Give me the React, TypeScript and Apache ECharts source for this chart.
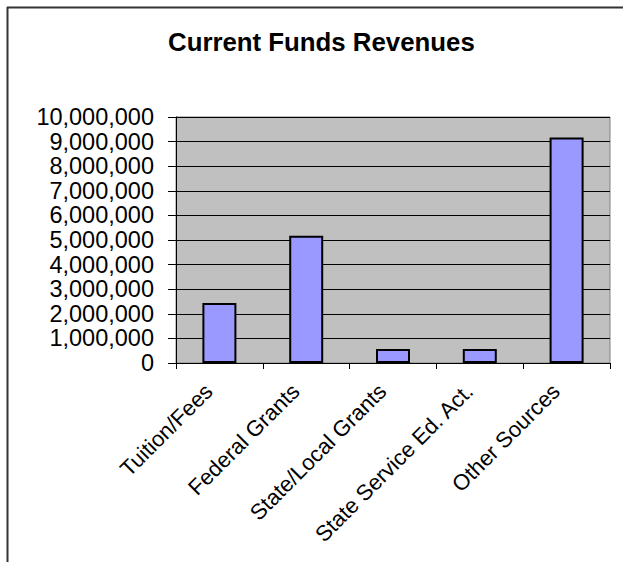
import React, { useEffect, useRef } from "react";
import * as echarts from "echarts";

const categories = [
  "Tuition/Fees",
  "Federal Grants",
  "State/Local Grants",
  "State Service Ed. Act.",
  "Other Sources",
];
const revenues = [2440000, 5170000, 570000, 570000, 9170000];
const titleText = "Current Funds Revenues";

export default function App() {
  const ref = useRef<HTMLDivElement>(null);
  useEffect(() => {
    if (!ref.current) return;
    const chart = echarts.init(ref.current, null, { renderer: "svg" });
    const font = "'Liberation Sans', Arial, sans-serif";
    chart.setOption({
      animation: false,
      backgroundColor: "#ffffff",
      title: {
        text: titleText,
        left: 163,
        top: 24,
        textStyle: {
          fontFamily: font,
          fontSize: 25.8,
          fontWeight: "bold",
          color: "#000",
        },
      },
      graphic: [
        {
          type: "line",
          shape: { x1: 7, y1: 7.5, x2: 640, y2: 7.5 },
          style: { stroke: "#333", lineWidth: 2 },
        },
        {
          type: "line",
          shape: { x1: 7.5, y1: 7, x2: 7.5, y2: 600 },
          style: { stroke: "#333", lineWidth: 2 },
        },
      ],
      grid: {
        left: 176,
        top: 117,
        width: 434,
        height: 246,
        show: true,
        backgroundColor: "#C0C0C0",
        borderColor: "#808080",
        borderWidth: 1,
      },
      xAxis: {
        type: "category",
        data: categories,
        axisLine: { show: true, lineStyle: { color: "#000", width: 1 } },
        axisTick: { show: true, length: 6, lineStyle: { color: "#000" } },
        axisLabel: {
          rotate: 45,
          interval: 0,
          margin: 14,
          padding: [0, 15, 0, 0],
          fontFamily: font,
          fontSize: 22,
          color: "#000",
        },
      },
      yAxis: {
        type: "value",
        min: 0,
        max: 10000000,
        interval: 1000000,
        axisLine: { show: true, lineStyle: { color: "#000", width: 1 } },
        axisTick: { show: true, length: 8, lineStyle: { color: "#000" } },
        splitLine: { show: true, lineStyle: { color: "#000", width: 1 } },
        axisLabel: {
          margin: 22,
          fontFamily: font,
          fontSize: 23.5,
          color: "#000",
          formatter: (v: number) => v.toLocaleString("en-US"),
        },
      },
      series: [
        {
          type: "bar",
          data: revenues,
          barWidth: 34,
          itemStyle: {
            color: "#9999FF",
            borderColor: "#000",
            borderWidth: 2,
          },
        },
      ],
    });
    return () => chart.dispose();
  }, []);
  return (
    <div
      ref={ref}
      style={{ position: "absolute", left: 0, top: 0, width: 623, height: 562 }}
    />
  );
}
